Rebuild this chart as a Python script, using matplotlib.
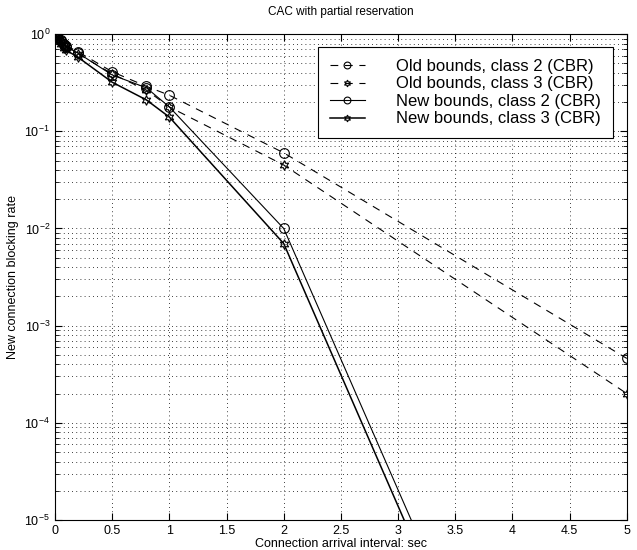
import matplotlib.pyplot as plt
import numpy as np

plt.rcParams['font.family'] = ['Liberation Sans', 'DejaVu Sans']

# connection arrival interval (sec)
x = [0.01, 0.03, 0.05, 0.08, 0.1, 0.2, 0.5, 0.8, 1.0, 2.0, 5.0]

old_class2 = [0.97, 0.92, 0.86, 0.80, 0.76, 0.66, 0.41, 0.29, 0.235, 0.060, 4.6e-4]
old_class3 = [0.96, 0.90, 0.84, 0.78, 0.74, 0.63, 0.39, 0.265, 0.178, 0.045, 2.0e-4]
new_class2 = [0.96, 0.90, 0.84, 0.78, 0.74, 0.64, 0.38, 0.28, 0.178, 0.0100, 8.5e-11]
new_class3 = [0.94, 0.87, 0.80, 0.72, 0.68, 0.58, 0.32, 0.21, 0.140, 0.0070, 5.5e-11]

labels = ['Old bounds, class 2 (CBR)', 'Old bounds, class 3 (CBR)',
          'New bounds, class 2 (CBR)', 'New bounds, class 3 (CBR)']

fig = plt.figure(figsize=(6.37, 5.5), dpi=100)
ax = fig.add_axes([0.0863, 0.0545, 0.8977, 0.8835])

dash = (0, (7, 6))
ax.semilogy(x, old_class2, color='black', linestyle=dash, linewidth=0.8,
            marker='o', markersize=7, markerfacecolor='none', markeredgewidth=0.8, label=labels[0])
ax.semilogy(x, old_class3, color='black', linestyle=dash, linewidth=0.8,
            marker=(6, 1, 0), markersize=7, markerfacecolor='none', markeredgewidth=0.8, label=labels[1])
ax.semilogy(x, new_class2, color='black', linestyle='-', linewidth=0.8,
            marker='o', markersize=7, markerfacecolor='none', markeredgewidth=0.8, label=labels[2])
ax.semilogy(x, new_class3, color='black', linestyle='-', linewidth=1.1,
            marker=(6, 1, 0), markersize=7, markerfacecolor='none', markeredgewidth=0.8, label=labels[3])

ax.set_xlim(0, 5)
ax.set_ylim(1e-5, 1)
ax.set_xticks(np.arange(0, 5.01, 0.5))
ax.set_xticklabels(['0', '0.5', '1', '1.5', '2', '2.5', '3', '3.5', '4', '4.5', '5'])

ax.grid(True, which='major', linestyle=(0, (1, 4)), color='black', linewidth=0.6)
ax.grid(True, which='minor', axis='y', linestyle=(0, (1, 4)), color='black', linewidth=0.6)
ax.tick_params(which='both', direction='in', top=True, right=True, labelsize=9)
ax.tick_params(which='major', length=5)
ax.tick_params(which='minor', length=3)
for s in ax.spines.values():
    s.set_linewidth(0.8)

ax.set_xlabel('Connection arrival interval: sec', fontsize=9, labelpad=1)
ax.set_ylabel('New connection blocking rate', fontsize=9)
ax.set_title('CAC with partial reservation', fontsize=8.5, pad=14)

leg = ax.legend(loc='upper right', bbox_to_anchor=(0.9755, 0.973), fontsize=12,
                fancybox=False, framealpha=1, edgecolor='black', markerscale=0.7,
                handlelength=2.1, borderpad=0.7, labelspacing=0.15, handletextpad=1.9,
                borderaxespad=0)
leg.get_frame().set_linewidth(0.8)

plt.savefig('out.png', dpi=100)
